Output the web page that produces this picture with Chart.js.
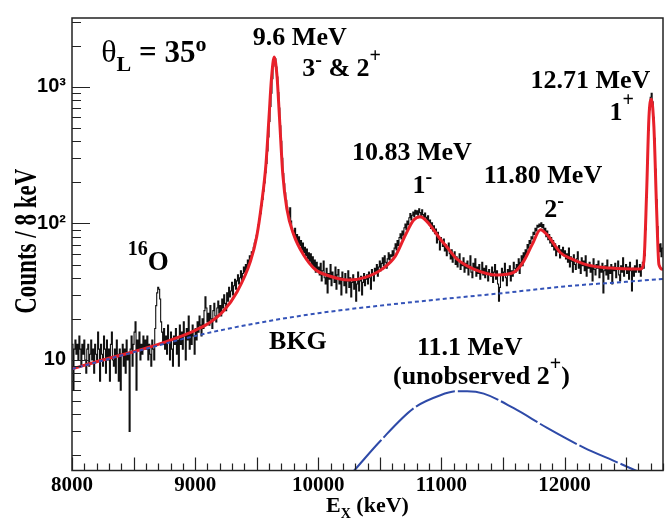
<!DOCTYPE html>
<html>
<head>
<meta charset="utf-8">
<title>12C excitation spectrum</title>
<script src="https://cdn.jsdelivr.net/npm/chart.js@4.4.1/dist/chart.umd.min.js"></script>
<style>
  html, body { margin: 0; padding: 0; background: #fff; }
</style>
</head>
<body>
<canvas id="spectrum" width="668" height="518"></canvas>
<script>
// Histogram: counts per 8 keV bin, first bin starts at 8000 keV
const binStart = 8000;
const binWidth = 8;
const counts = [
  13, 6, 12, 14, 11, 13, 10, 15, 12, 9, 13, 11, 14, 10, 8, 12, 13, 9, 11, 14, 10, 12, 8, 13, 11,
  10, 16, 12, 7, 13, 11, 9, 15, 12, 8, 14, 10, 12, 7, 13, 16, 10, 9, 12, 8, 14, 11, 7, 12, 6,
  11, 13, 9, 12, 8, 14, 10, 11, 3, 12, 15, 9, 13, 16, 19, 6, 14, 12, 16, 10, 13, 11, 15, 12, 14,
  12, 15, 10, 13, 11, 9, 14, 12, 10, 17, 25, 31, 34, 33, 28, 19, 16, 13, 17, 12, 15, 11, 18, 14, 10,
  16, 12, 9, 15, 13, 17, 11, 14, 9, 18, 13, 16, 12, 19, 15, 10, 17, 14, 21, 12, 16, 13, 18, 15, 11,
  17, 14, 19, 16, 21, 18, 15, 20, 17, 23, 29, 24, 19, 22, 18, 25, 20, 17, 23, 26, 21, 19, 24, 27, 22,
  25, 21, 28, 24, 30, 26, 23, 31, 27, 34, 29, 32, 37, 30, 35, 39, 33, 38, 42, 36, 40, 45, 38, 43, 48,
  44, 50, 46, 54, 51, 58, 55, 62, 60, 67, 72, 76, 82, 88, 98, 108, 118, 135, 150, 172, 198, 235, 275, 340, 430,
  560, 720, 900, 1150, 1420, 1640, 1610, 1400, 1180, 910, 700, 520, 400, 300, 232, 195, 168, 148, 132, 121, 112, 130, 104, 92, 88,
  85, 92, 76, 83, 72, 80, 69, 75, 64, 72, 61, 67, 58, 65, 55, 61, 53, 60, 50, 57, 47, 54, 44, 52, 46,
  48, 42, 51, 38, 45, 53, 40, 36, 47, 31, 43, 39, 50, 35, 44, 41, 37, 48, 33, 42, 46, 36, 40, 30, 44,
  39, 35, 43, 31, 38, 45, 34, 40, 29, 37, 42, 33, 39, 27, 36, 44, 32, 38, 41, 30, 37, 43, 35, 39, 42,
  36, 44, 40, 33, 46, 42, 38, 47, 43, 50, 41, 48, 53, 45, 51, 56, 49, 58, 52, 47, 55, 61, 54, 59, 57,
  63, 58, 66, 71, 64, 75, 69, 79, 84, 77, 88, 82, 93, 99, 90, 104, 98, 110, 118, 106, 115, 121, 112, 125, 117,
  124, 115, 128, 120, 110, 126, 116, 107, 119, 111, 102, 114, 98, 106, 92, 101, 88, 96, 84, 91, 72, 86, 76, 64, 79,
  74, 68, 77, 63, 70, 58, 66, 72, 60, 55, 64, 52, 59, 62, 50, 57, 48, 54, 60, 46, 52, 49, 56, 44, 51,
  47, 53, 42, 49, 58, 44, 40, 51, 46, 55, 41, 48, 43, 50, 39, 45, 52, 42, 47, 40, 49, 44, 38, 46, 43,
  41, 48, 37, 44, 50, 39, 45, 36, 27, 34, 42, 47, 38, 44, 51, 40, 35, 46, 42, 49, 38, 45, 41, 52, 47,
  44, 50, 47, 55, 43, 52, 58, 49, 61, 56, 64, 59, 70, 66, 75, 71, 80, 77, 86, 83, 92, 88, 97, 94, 99,
  95, 101, 93, 98, 86, 92, 80, 88, 76, 83, 72, 79, 68, 75, 64, 71, 58, 67, 62, 69, 56, 64, 60, 67, 58,
  63, 55, 60, 52, 66, 48, 57, 53, 44, 59, 50, 46, 55, 62, 47, 51, 43, 56, 49, 53, 45, 58, 41, 50, 47,
  52, 44, 49, 38, 55, 46, 42, 50, 47, 53, 40, 48, 44, 51, 31, 45, 49, 42, 54, 39, 47, 43, 50, 36, 48,
  45, 51, 40, 47, 53, 42, 38, 49, 44, 56, 41, 46, 50, 43, 48, 39, 52, 45, 32, 47, 41, 49, 44, 54, 46,
  44, 50, 41, 48, 52, 47, 58, 90, 155, 290, 480, 680, 840, 900, 780, 600, 420, 250, 150, 95, 70, 62, 71, 57, 66
];

// Total fit (peaks + background)
const fitE = [8000, 8250, 8500, 8700, 8850, 9000, 9120, 9230, 9340, 9450, 9500, 9540, 9575, 9600, 9620, 9642,
  9665, 9685, 9712, 9745, 9800, 9880, 9976, 10084, 10247, 10382, 10518, 10626, 10707, 10775, 10829, 10897,
  10990, 11040, 11128, 11263, 11453, 11588, 11669, 11737, 11805, 11859, 11927, 11967, 12049, 12184, 12374,
  12618, 12645, 12667, 12686, 12705, 12726, 12748, 12767, 12800];
const fitCounts = [8.6, 10.0, 11.5, 13.0, 14.5, 16.5, 18.8, 22.8, 31.5, 53, 80, 140, 270, 600, 1150, 1656,
  1200, 600, 230, 128, 83, 59, 46, 41.4, 38.5, 40.3, 46.3, 57.7, 82, 106, 112, 100,
  77, 68, 54.7, 46.3, 41.9, 43.8, 53, 70, 90, 82.6, 68, 61, 55.5, 49.7, 47.1,
  46.3, 53, 169, 603, 812, 513, 128, 50, 46];

// Background component
const bkgE = [8000, 8500, 9000, 9500, 10000, 10500, 11000, 11500, 12000, 12500, 12800];
const bkgCounts = [8.6, 11.4, 15.0, 18.6, 22.0, 25.0, 27.9, 30.9, 34.6, 37.4, 39.2];

// Broad 11.1 MeV 2+ component (not seen in the data)
const broadE = [10287, 10504, 10775, 10992, 11128, 11209, 11344, 11588, 11859, 12157, 12428, 12591];
const broadCounts = [1.53, 2.55, 4.43, 5.52, 5.9, 5.9, 5.67, 4.43, 3.18, 2.28, 1.78, 1.53];

const xTickLabels = [8000, 9000, 10000, 11000, 12000];
const yTickValues = [10, 100, 1000];
const yTickText = ["10", "10\u00b2", "10\u00b3"];

const serif = '"Liberation Serif", "Times New Roman", serif';
const sans = '"Liberation Sans", Arial, sans-serif';

// text pieces: [text, size, baseline shift, weight]
const notes = [
  { at: [8665, 1520], parts: [["\u03b8", 32, 0, "normal"], ["L", 22, 9], [" = 35", 31, 0], ["o", 22, -11]] },
  { at: [9850, 2020], parts: [["9.6 MeV", 26, 0]] },
  { at: [10190, 1210], parts: [["3", 26, 0], ["-", 20, -10], [" & 2", 26, 0], ["+", 20, -14]] },
  { at: [10760, 290], parts: [["10.83 MeV", 26, 0]] },
  { at: [10845, 168], parts: [["1", 26, 0], ["-", 20, -10]] },
  { at: [11825, 199], parts: [["11.80 MeV", 26, 0]] },
  { at: [11915, 111], parts: [["2", 26, 0], ["-", 20, -10]] },
  { at: [12210, 990], parts: [["12.71 MeV", 26, 0]] },
  { at: [12465, 575], parts: [["1", 26, 0], ["+", 20, -14]] },
  { at: [8620, 46], parts: [["16", 20, -15], ["O", 27, 0]] },
  { at: [9835, 12.1], parts: [["BKG", 26, 0]] },
  { at: [11230, 10.9], parts: [["11.1 MeV", 26, 0]] },
  { at: [11325, 6.65], parts: [["(unobserved 2", 26, 0], ["+", 20, -14], [")", 26, 0]] }
];
const xTitle = [["E", 22, 0], ["X", 14, 6], [" (keV)", 22, 0]];
const yTitle = "Counts / 8 keV";

function fontOf(p) {
  return (p[3] || "bold") + " " + p[1] + "px " + serif;
}

function drawRich(ctx, parts, cx, y) {
  let total = 0;
  const widths = parts.map(p => {
    ctx.font = fontOf(p);
    const w = ctx.measureText(p[0]).width;
    total += w;
    return w;
  });
  let x = cx - total / 2;
  parts.forEach((p, i) => {
    ctx.font = fontOf(p);
    ctx.fillText(p[0], x, y + (p[2] || 0));
    x += widths[i];
  });
}

const histPoints = counts.map((c, i) => ({ x: binStart + i * binWidth, y: c }));
histPoints.push({ x: binStart + counts.length * binWidth, y: counts[counts.length - 1] });

const toPoints = (xs, ys) => xs.map((v, i) => ({ x: v, y: ys[i] }));

// frame, inward ticks, labels and titles
const framePlugin = {
  id: "spectrumFrame",
  afterDraw(chart) {
    const { ctx, chartArea: a, scales } = chart;
    const xs = scales.x, ys = scales.y;
    ctx.save();
    ctx.strokeStyle = "#222";
    ctx.lineWidth = 1.5;
    ctx.strokeRect(a.left, a.top, a.right - a.left, a.bottom - a.top);

    ctx.lineWidth = 1.2;
    ctx.beginPath();
    for (let e = xs.min; e <= xs.max; e += 100) {
      const px = Math.round(xs.getPixelForValue(e)) + 0.5;
      const len = e % 500 === 0 ? 13 : 7;
      ctx.moveTo(px, a.bottom);
      ctx.lineTo(px, a.bottom - len);
    }
    for (let d = 1; d <= 1000; d *= 10) {
      for (let m = 1; m < 10; m++) {
        const v = m * d;
        if (v < ys.min || v > ys.max) continue;
        const py = Math.round(ys.getPixelForValue(v)) + 0.5;
        ctx.moveTo(a.left, py);
        ctx.lineTo(a.left + (m === 1 ? 18 : 9), py);
      }
    }
    ctx.stroke();

    ctx.fillStyle = "#000";
    ctx.textAlign = "left";
    ctx.textBaseline = "alphabetic";
    notes.forEach(n => drawRich(ctx, n.parts, xs.getPixelForValue(n.at[0]), ys.getPixelForValue(n.at[1])));
    drawRich(ctx, xTitle, (a.left + a.right) / 2, a.bottom + 41.5);

    ctx.translate(36, (a.top + a.bottom) / 2 - 3);
    ctx.rotate(-Math.PI / 2);
    ctx.scale(1, 1.4);
    ctx.font = "bold 23px " + serif;
    ctx.textAlign = "center";
    ctx.fillText(yTitle, 0, 0);
    ctx.restore();
  }
};

new Chart(document.getElementById("spectrum"), {
  type: "line",
  data: {
    datasets: [
      {
        label: "BKG",
        data: toPoints(bkgE, bkgCounts),
        borderColor: "#3453b8",
        borderWidth: 2,
        borderDash: [4, 3],
        pointRadius: 0,
        cubicInterpolationMode: "monotone"
      },
      {
        label: "11.1 MeV",
        data: toPoints(broadE, broadCounts),
        borderColor: "#2e4aa8",
        borderWidth: 2,
        borderDash: [42, 3],
        pointRadius: 0,
        cubicInterpolationMode: "monotone"
      },
      {
        label: "Fit",
        data: toPoints(fitE, fitCounts),
        borderColor: "#e8202a",
        borderWidth: 3,
        pointRadius: 0,
        cubicInterpolationMode: "monotone"
      },
      {
        label: "Data",
        data: histPoints,
        borderColor: "#111",
        borderWidth: 1.1,
        pointRadius: 0,
        stepped: "before"
      }
    ]
  },
  options: {
    responsive: false,
    animation: false,
    events: [],
    layout: { padding: { top: 8, right: 5, left: 0, bottom: 0 } },
    plugins: {
      legend: { display: false },
      tooltip: { enabled: false }
    },
    scales: {
      x: {
        type: "linear",
        min: 8000,
        max: 12800,
        grid: { display: false, drawTicks: false },
        border: { display: false },
        ticks: {
          stepSize: 100,
          autoSkip: false,
          maxRotation: 0,
          padding: 2,
          color: "#000",
          font: { family: serif, weight: "bold", size: 21 },
          callback: v => (xTickLabels.includes(v) ? String(v) : "")
        },
        afterFit: s => { s.height = 47.5; }
      },
      y: {
        type: "logarithmic",
        min: 1.55,
        max: 3200,
        grid: { display: false, drawTicks: false },
        border: { display: false },
        ticks: {
          autoSkip: false,
          padding: 6,
          color: "#000",
          font: { family: sans, weight: "bold", size: 20 },
          callback: v => {
            const k = yTickValues.findIndex(t => Math.abs(t - v) < 1e-6 * t);
            return k < 0 ? "" : yTickText[k];
          }
        },
        afterFit: s => { s.width = 72; }
      }
    }
  },
  plugins: [framePlugin]
});
</script>
</body>
</html>
